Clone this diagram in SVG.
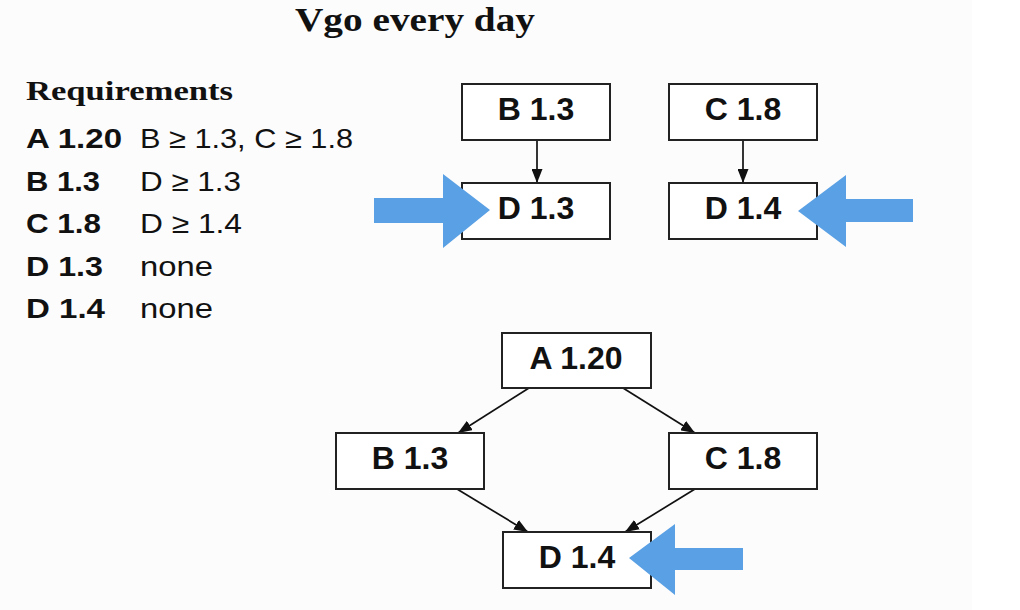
<svg xmlns="http://www.w3.org/2000/svg" width="1020" height="610" viewBox="0 0 1020 610">
<defs>
<style>
.box{fill:#ffffff;stroke:#222;stroke-width:2}
.lbl{font-family:"Liberation Sans",Arial,sans-serif;font-weight:bold;font-size:32px;fill:#111;text-anchor:middle}
.side{font-family:"Liberation Sans",Arial,sans-serif;font-size:28px;fill:#111}
.sideb{font-family:"Liberation Sans",Arial,sans-serif;font-size:28px;font-weight:bold;fill:#111}
.serif{font-family:"Liberation Serif","Times New Roman",serif;font-weight:bold;fill:#111}
.edge{stroke:#111;stroke-width:1.7;fill:none;marker-end:url(#ah)}
.blue{fill:#5aa0e4}
</style>
<marker id="ah" viewBox="0 0 14 11" refX="14" refY="5.5" markerWidth="14" markerHeight="11" markerUnits="userSpaceOnUse" orient="auto">
<path d="M0,0 L14,5.5 L0,11 Z" fill="#111"/>
</marker>
</defs>
<rect x="0" y="0" width="1020" height="610" fill="#fcfcfc"/>
<rect x="972" y="0" width="48" height="610" fill="#ffffff"/>

<g id="title">
<text class="serif" x="295" y="31" font-size="34" textLength="240" lengthAdjust="spacingAndGlyphs">Vgo every day</text>
</g>

<g id="requirements">
<text class="serif" x="26" y="100" font-size="28" textLength="207" lengthAdjust="spacingAndGlyphs">Requirements</text>
<text class="sideb" x="26" y="148" textLength="96" lengthAdjust="spacingAndGlyphs">A 1.20</text>
<text class="side" x="140" y="148" textLength="213" lengthAdjust="spacingAndGlyphs">B ≥ 1.3, C ≥ 1.8</text>
<text class="sideb" x="26" y="191" textLength="74" lengthAdjust="spacingAndGlyphs">B 1.3</text>
<text class="side" x="140" y="191" textLength="101" lengthAdjust="spacingAndGlyphs">D ≥ 1.3</text>
<text class="sideb" x="26" y="233" textLength="75" lengthAdjust="spacingAndGlyphs">C 1.8</text>
<text class="side" x="140" y="233" textLength="102" lengthAdjust="spacingAndGlyphs">D ≥ 1.4</text>
<text class="sideb" x="26" y="276" textLength="77" lengthAdjust="spacingAndGlyphs">D 1.3</text>
<text class="side" x="140" y="276" textLength="73" lengthAdjust="spacingAndGlyphs">none</text>
<text class="sideb" x="26" y="318" textLength="79" lengthAdjust="spacingAndGlyphs">D 1.4</text>
<text class="side" x="140" y="318" textLength="73" lengthAdjust="spacingAndGlyphs">none</text>
</g>

<g id="connectors">
<line class="edge" x1="537" y1="141" x2="537" y2="183"/>
<line class="edge" x1="743" y1="141" x2="743" y2="183"/>
<line class="edge" x1="529" y1="388" x2="458" y2="433"/>
<line class="edge" x1="623" y1="388" x2="695" y2="433"/>
<line class="edge" x1="457" y1="489" x2="528" y2="532"/>
<line class="edge" x1="695" y1="489" x2="625" y2="532"/>
</g>

<g id="top-b13">
<rect class="box" x="462" y="84" width="148" height="56"/>
<text class="lbl" x="536" y="120">B 1.3</text>
</g>
<g id="top-d13">
<rect class="box" x="462" y="183" width="148" height="56"/>
<text class="lbl" x="536" y="219">D 1.3</text>
</g>
<g id="top-c18">
<rect class="box" x="669" y="84" width="148" height="56"/>
<text class="lbl" x="743" y="120">C 1.8</text>
</g>
<g id="top-d14">
<rect class="box" x="669" y="183" width="148" height="56"/>
<text class="lbl" x="743" y="219">D 1.4</text>
</g>

<g id="bot-a120">
<rect class="box" x="502" y="333" width="149" height="55"/>
<text class="lbl" x="576" y="369">A 1.20</text>
</g>
<g id="bot-b13">
<rect class="box" x="336" y="433" width="148" height="56"/>
<text class="lbl" x="410" y="469">B 1.3</text>
</g>
<g id="bot-c18">
<rect class="box" x="669" y="433" width="148" height="56"/>
<text class="lbl" x="743" y="469">C 1.8</text>
</g>
<g id="bot-d14">
<rect class="box" x="503" y="532" width="148" height="56"/>
<text class="lbl" x="577" y="568">D 1.4</text>
</g>

<g id="highlights">
<polygon class="blue" points="374,198 443,198 443,174 490,210 443,248 443,223 374,223"/>
<polygon class="blue" points="913,199 846,199 846,175 798,211 846,247 846,222 913,222"/>
<polygon class="blue" points="743,548 675,548 675,524 629,558 675,595 675,570 743,570"/>
</g>
</svg>
